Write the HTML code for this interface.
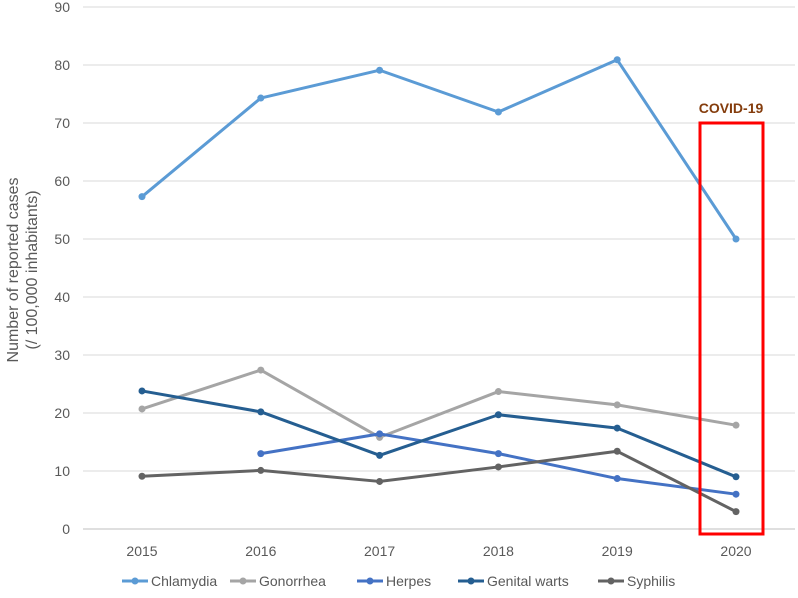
<!DOCTYPE html>
<html><head><meta charset="utf-8"><style>
body{margin:0;background:#fff;font-family:"Liberation Sans",sans-serif;}
svg text{font-family:"Liberation Sans",sans-serif;}
</style></head><body>
<svg id="chart" width="798" height="593"></svg>
<script>
const years=[2015,2016,2017,2018,2019,2020];
const yTicks=[0,10,20,30,40,50,60,70,80,90];
const chlamydia=[57.3,74.3,79.1,71.9,80.9,50];
const gonorrhea=[20.7,27.4,15.8,23.7,21.4,17.9];
const herpes=[null,13,16.4,13,8.7,6];
const genitalWarts=[23.8,20.2,12.7,19.7,17.4,9];
const syphilis=[9.1,10.1,8.2,10.7,13.4,3];
const seriesNames=["Chlamydia","Gonorrhea","Herpes","Genital warts","Syphilis"];
const seriesData=[chlamydia,gonorrhea,herpes,genitalWarts,syphilis];
const colors=["#5b9bd5","#a5a5a5","#4472c4","#255e91","#636363"];
const NS="http://www.w3.org/2000/svg";
const svg=document.getElementById('chart');
const y0=529,y1=7,x0=142,x1=736;
const ys=v=>y0-(v/90)*(y0-y1);
const xs=i=>x0+i*(x1-x0)/(years.length-1);
function mk(t,a,p){const e=document.createElementNS(NS,t);for(const k in a)e.setAttribute(k,a[k]);(p||svg).appendChild(e);return e;}
yTicks.forEach(t=>{
 const l=mk('line',{x1:83,x2:795,y1:ys(t),y2:ys(t),stroke:t===0?'#bfbfbf':'#d9d9d9','stroke-width':1});
 
 
 const tx=mk('text',{x:70,y:ys(t)+5,'text-anchor':'end','font-size':14,fill:'#595959'});tx.textContent=t;
 
 
});
years.forEach((yr,i)=>{
 const tx=mk('text',{x:xs(i),y:556,'text-anchor':'middle','font-size':14,fill:'#595959'});tx.textContent=yr;
 
 
});
const yt=mk('text',{transform:'translate(18,270) rotate(-90)','text-anchor':'middle','font-size':16,fill:'#595959'});


const t1=mk('tspan',{x:0,dy:0},yt);t1.textContent='Number of reported cases';
const t2=mk('tspan',{x:0,dy:19},yt);t2.textContent='(/ 100,000 inhabitants)';
seriesData.forEach((d,s)=>{
 const g=mk('g',{});
 
 
 let pts=[];d.forEach((v,i)=>{if(v!==null)pts.push(xs(i)+','+ys(v));});
 mk('polyline',{points:pts.join(' '),fill:'none',stroke:colors[s],'stroke-width':3,'stroke-linejoin':'round'},g);
 d.forEach((v,i)=>{if(v===null)return;const c=mk('circle',{cx:xs(i),cy:ys(v),r:3.5,fill:colors[s]},g);
  
  });
});
const r=mk('rect',{x:700,y:123,width:63,height:411,fill:'none',stroke:'#ff0000','stroke-width':3});


const ct=mk('text',{x:731,y:113,'text-anchor':'middle','font-size':14,'font-weight':'bold',fill:'#843c0c'});ct.textContent='COVID-19';


const lx=[122,230,357,458,598];
seriesNames.forEach((n,s)=>{
 const g=mk('g',{});
 
 
 mk('line',{x1:lx[s],x2:lx[s]+26,y1:581,y2:581,stroke:colors[s],'stroke-width':3},g);
 mk('circle',{cx:lx[s]+13,cy:581,r:3.5,fill:colors[s]},g);
 const t=mk('text',{x:lx[s]+29,y:586,'font-size':14,fill:'#595959'},g);t.textContent=n;
});
</script>
</body></html>
